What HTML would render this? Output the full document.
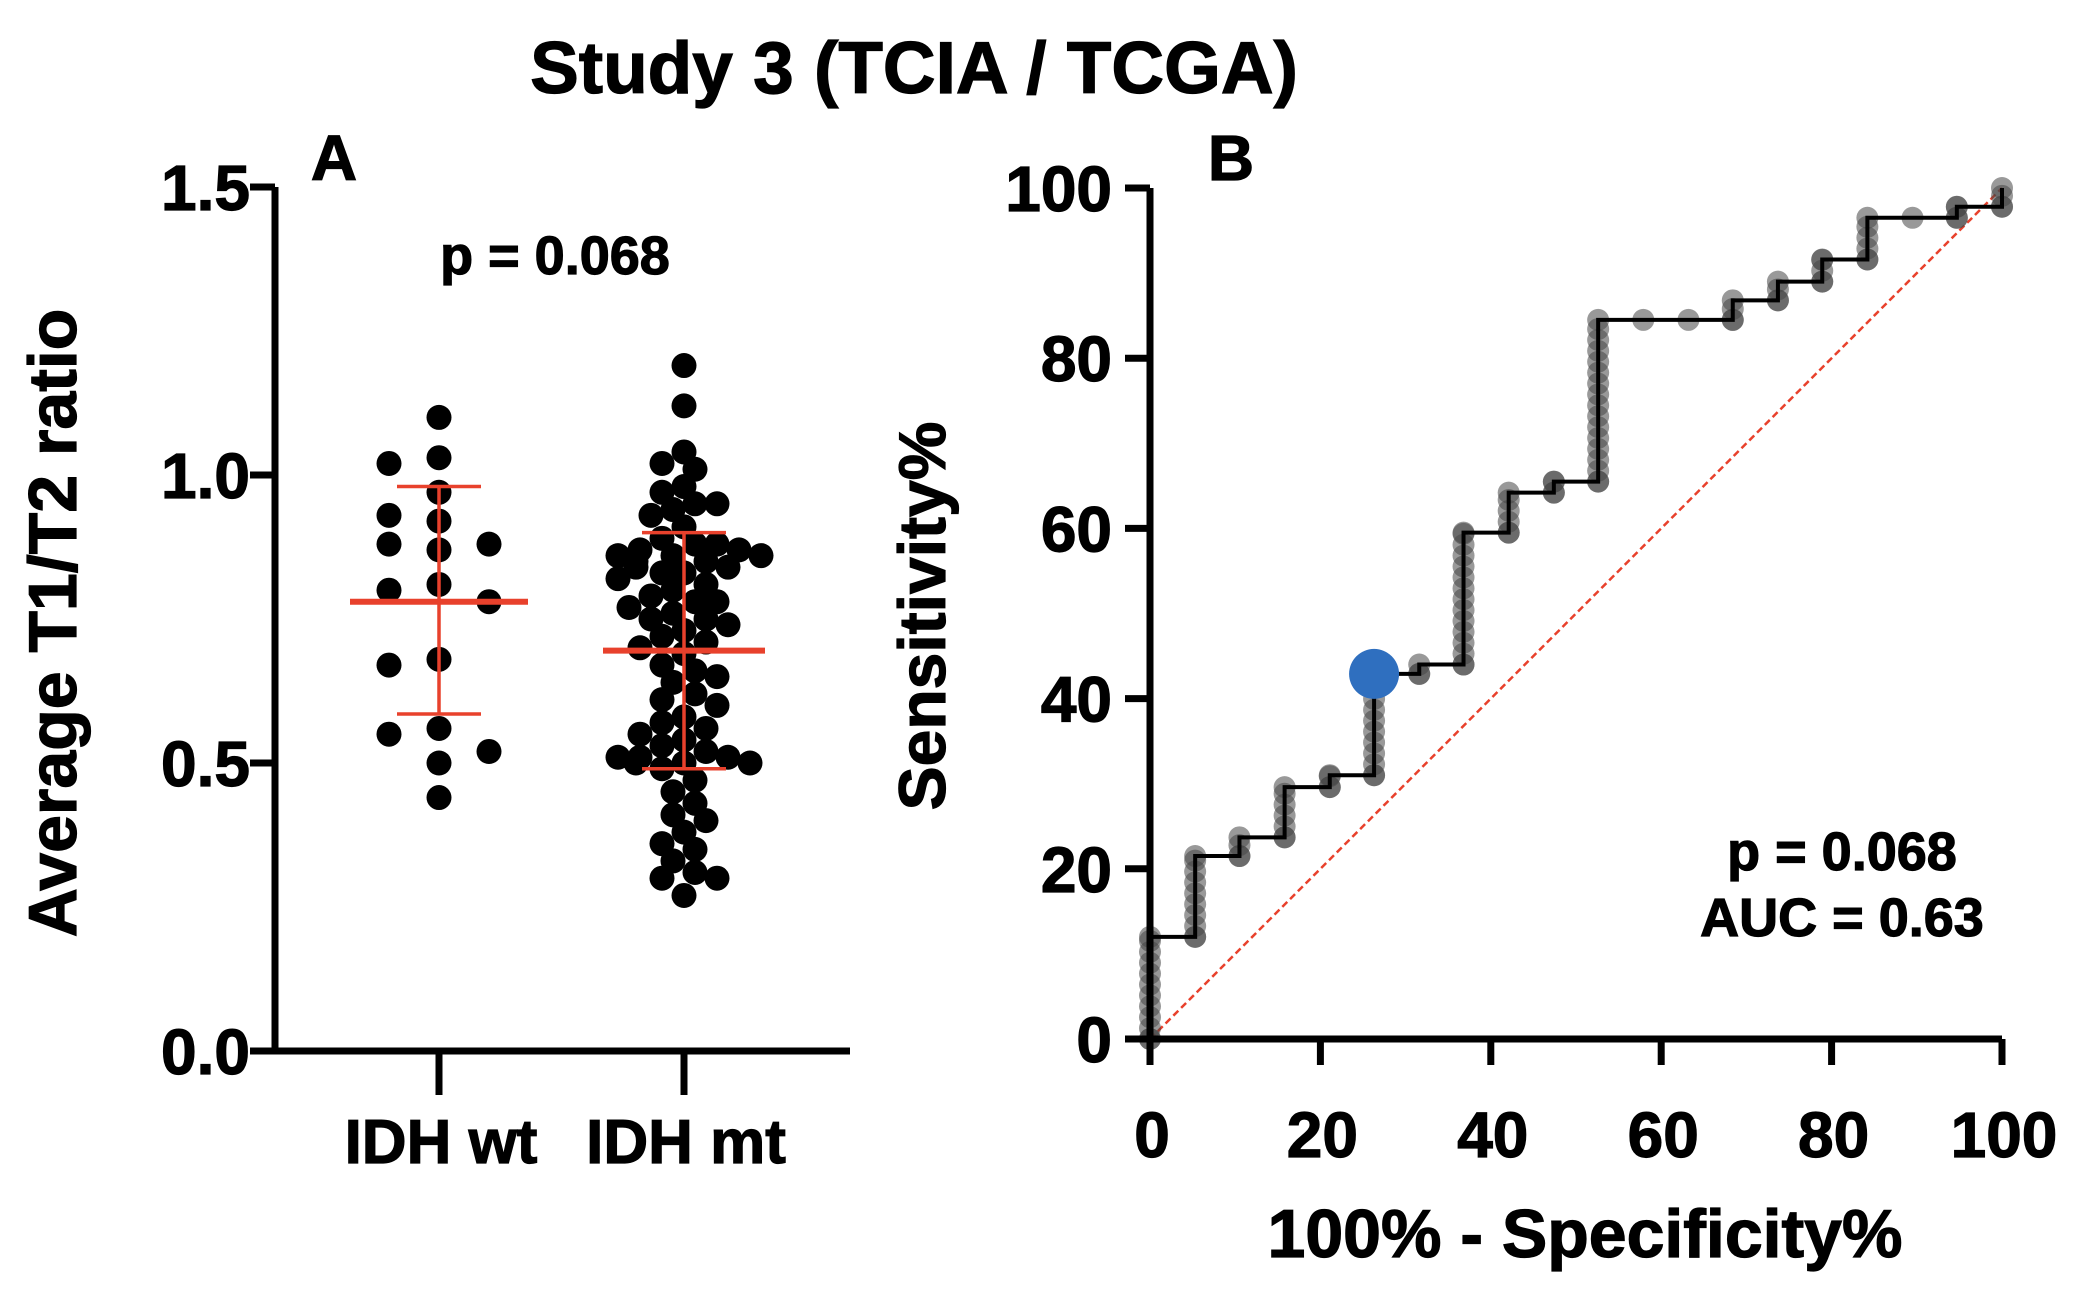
<!DOCTYPE html>
<html><head><meta charset="utf-8"><style>
html,body{margin:0;padding:0;background:#fff;}
svg{display:block;font-family:"Liberation Sans",Arial,sans-serif;font-weight:bold;}
text{stroke:#000;stroke-width:1.2;}
</style></head><body>
<svg id="s" width="2082" height="1292" viewBox="0 0 2082 1292">
<text x="914" y="93" font-size="73" text-anchor="middle">Study 3 (TCIA / TCGA)</text>
<text x="334" y="180" font-size="64" text-anchor="middle">A</text>
<text x="1231" y="180" font-size="64" text-anchor="middle">B</text>
<text x="555" y="274" font-size="54" text-anchor="middle">p = 0.068</text>
<text transform="translate(76,623) rotate(-90)" font-size="68" text-anchor="middle">Average T1/T2 ratio</text>
<text transform="translate(945,616) rotate(-90)" font-size="66" text-anchor="middle">Sensitivity%</text>
<text x="1585" y="1257" font-size="68" text-anchor="middle">100% - Specificity%</text>
<text x="1842" y="870" font-size="54" text-anchor="middle">p = 0.068</text>
<text x="1842" y="936" font-size="54" text-anchor="middle">AUC = 0.63</text>
<g id="ga"></g><g id="gb"></g>
</svg>
<script>
const groupsA = ["IDH wt","IDH mt"];
const ticksA = [0.0,0.5,1.0,1.5];
const wtValues = [1.10,1.03,1.02,0.97,0.93,0.92,0.88,0.88,0.87,0.81,0.80,0.78,0.68,0.67,0.56,0.55,0.52,0.50,0.44];
const mtValues = [1.19,1.12,1.04,1.02,1.01,0.98,0.97,0.95,0.95,0.94,0.93,0.91,
0.89,0.88,0.88,0.87,0.87,0.86,0.86,0.86,0.85,0.85,0.84,0.84,0.83,0.83,0.82,0.81,
0.80,0.79,0.78,0.78,0.77,0.76,0.75,0.75,0.74,0.73,0.72,0.71,0.70,0.69,
0.67,0.66,0.65,0.64,0.62,0.61,0.60,
0.58,0.57,0.56,0.55,0.54,0.53,0.52,0.51,0.51,0.51,0.50,0.50,0.50,0.49,
0.47,0.45,0.43,0.41,0.40,0.38,0.36,0.35,0.33,0.31,0.30,0.30,0.27];
const means = [0.78,0.695];
const sdLow = [0.585,0.49];
const sdHigh = [0.98,0.90];

const rocFpr = [0,0,5.3,5.3,10.5,10.5,15.8,15.8,21.1,21.1,26.3,26.3,31.6,31.6,36.8,36.8,42.1,42.1,47.4,47.4,52.6,52.6,57.9,63.2,68.4,68.4,73.7,73.7,78.9,78.9,84.2,84.2,89.5,94.7,94.7,100,100];
const rocTpr = [0,12,12,21.5,21.5,23.7,23.7,29.6,29.6,31,31,42.9,42.9,44,44,59.5,59.5,64.2,64.2,65.5,65.5,84.5,84.5,84.5,84.5,86.8,86.8,89,89,91.6,91.6,96.5,96.5,96.5,97.8,97.8,100];
const ticksB = [0,20,40,60,80,100];
const cutoff = [26.3,42.9];

const NS="http://www.w3.org/2000/svg";
function mk(p,tag,at){const e=document.createElementNS(NS,tag);for(const k in at)e.setAttribute(k,at[k]);p.appendChild(e);return e;}
const ga=document.getElementById('ga');
const yA=v=>1051-v*576;
const xA=i=>[439,684][i];
let e;
e=mk(ga,'path',{d:`M275 ${yA(1.5)} V1051 H850`,stroke:'#000','stroke-width':7,fill:'none'});


ticksA.forEach(t=>{
 e=mk(ga,'line',{x1:250,x2:275,y1:yA(t),y2:yA(t),stroke:'#000','stroke-width':7});
 
 
 e=mk(ga,'text',{x:250,y:yA(t)+23,'font-size':64,'text-anchor':'end'});e.textContent=t.toFixed(1);
 
 
});
groupsA.forEach((g,i)=>{
 e=mk(ga,'line',{x1:xA(i),x2:xA(i),y1:1051,y2:1095,stroke:'#000','stroke-width':7});
 
 
 e=mk(ga,'text',{x:xA(i)+2,y:1163,'font-size':62,'text-anchor':'middle'});e.textContent=g;
 
 
});
function swarm(vals,cx,r,step,thr,maxOff){
 const placed=[];const d=2*r;
 vals.forEach(v=>{
  const y=yA(v);let done=false;
  for(let k=0;k<40;k++){
   const off=(k%2?-1:1)*Math.ceil(k/2)*step;
   if(Math.abs(off)>maxOff)break;
   const x=cx+off;
   if(placed.every(p=>(p[0]-x)**2+(p[1]-y)**2>=d*d*thr)){placed.push([x,y]);done=true;break;}
  }
  if(!done)placed.push([cx+((placed.length%2)?-1:1)*maxOff*0.6,y]);
 });
 return placed;
}
[wtValues,mtValues].forEach((vals,i)=>{
 const pts=i?swarm(vals,xA(i),12.5,11,0.6,80):swarm(vals,xA(i),12.5,50,0.85,60);
 pts.forEach(p=>{
  e=mk(ga,'circle',{cx:p[0],cy:p[1],r:12.5,fill:'#000'});
  
  
 });
});
[0,1].forEach(i=>{
 const c=xA(i),red='#e8412c';
 e=mk(ga,'line',{x1:c-(i?81:89),x2:c+(i?81:89),y1:yA(means[i]),y2:yA(means[i]),stroke:red,'stroke-width':6});
 
 
 e=mk(ga,'path',{d:`M${c} ${yA(sdLow[i])} V${yA(sdHigh[i])} M${c-42} ${yA(sdLow[i])} H${c+42} M${c-42} ${yA(sdHigh[i])} H${c+42}`,stroke:red,'stroke-width':3.5,fill:'none'});
 
 
});
const gb=document.getElementById('gb');
const xB=v=>1150+v*8.52;
const yB=v=>1039-v*8.51;
e=mk(gb,'line',{x1:xB(0),y1:yB(0),x2:xB(100),y2:yB(100),stroke:'#e8412c','stroke-width':2.5,'stroke-dasharray':'7,4'});


for(let i=0;i<rocFpr.length;i++){
 const x=xB(rocFpr[i]);
 if(i>0 && rocFpr[i]===rocFpr[i-1]){
  const a=rocTpr[i-1],b=rocTpr[i];
  for(let v=a;v<=b;v+=1.28){
   e=mk(gb,'circle',{cx:x,cy:yB(v),r:11,fill:'rgba(70,70,70,0.55)'});
   
   
  }
 }
 e=mk(gb,'circle',{cx:x,cy:yB(rocTpr[i]),r:11,fill:'rgba(70,70,70,0.55)'});
 
 
}
e=mk(gb,'polyline',{points:rocFpr.map((f,i)=>xB(f)+','+yB(rocTpr[i])).join(' '),fill:'none',stroke:'#000','stroke-width':4});


e=mk(gb,'path',{d:`M${xB(0)} ${yB(100)} V${yB(0)} H${xB(100)}`,stroke:'#000','stroke-width':7,fill:'none'});


ticksB.forEach(t=>{
 e=mk(gb,'line',{x1:1125,x2:1150,y1:yB(t),y2:yB(t),stroke:'#000','stroke-width':7});
 
 
 e=mk(gb,'text',{x:1112,y:yB(t)+23,'font-size':64,'text-anchor':'end'});e.textContent=t;
 
 
 e=mk(gb,'line',{x1:xB(t),x2:xB(t),y1:1039,y2:1065,stroke:'#000','stroke-width':7});
 
 
 e=mk(gb,'text',{x:xB(t)+2,y:1157,'font-size':64,'text-anchor':'middle'});e.textContent=t;
 
 
});
e=mk(gb,'circle',{cx:xB(cutoff[0]),cy:yB(cutoff[1]),r:25,fill:'#2f6fbf'});


</script>
</body></html>
